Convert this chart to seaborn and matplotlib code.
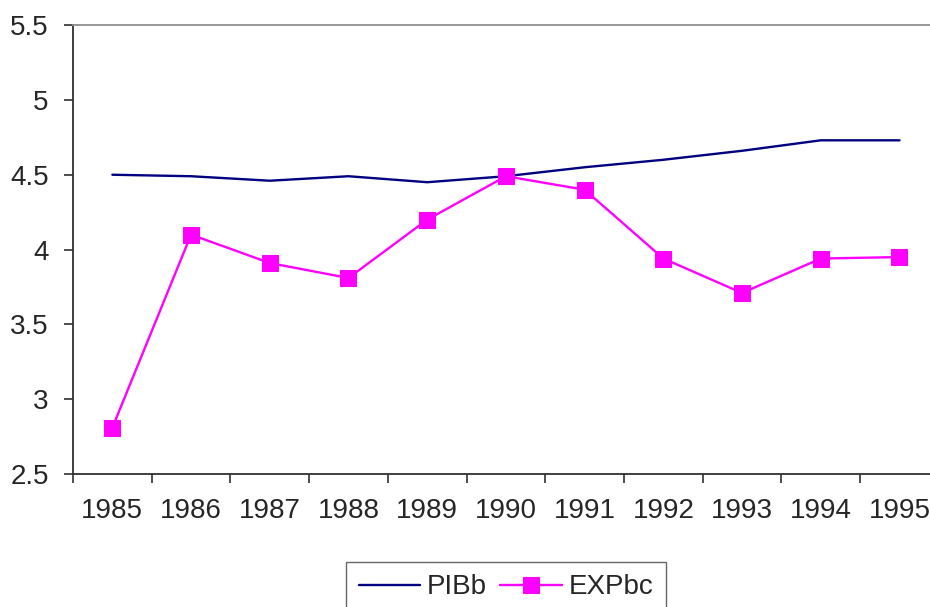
import pandas as pd
import numpy as np
import matplotlib
matplotlib.use("Agg")
import matplotlib.pyplot as plt
import seaborn as sns

# ── Data ─────────────────────────────────────────────────────────
years = ["1985", "1986", "1987", "1988", "1989", "1990",
         "1991", "1992", "1993", "1994", "1995"]
pibb = [4.50, 4.49, 4.46, 4.49, 4.45, 4.49, 4.55, 4.60, 4.66, 4.73, 4.73]
expbc = [2.81, 4.10, 3.91, 3.81, 4.20, 4.49, 4.40, 3.94, 3.71, 3.94, 3.95]
y_ticks = [2.5, 3, 3.5, 4, 4.5, 5, 5.5]
y_labels = ["2.5", "3", "3.5", "4", "4.5", "5", "5.5"]

df = pd.DataFrame({"Year": years, "PIBb": pibb, "EXPbc": expbc})

sns.set_style("white")
plt.rcParams["font.family"] = ["Liberation Sans", "DejaVu Sans"]

fig = plt.figure(figsize=(9.3, 6.07), dpi=100)
ax = fig.add_axes([0.0785, 0.219, 0.931, 0.7397])

sns.lineplot(data=df, x="Year", y="PIBb", ax=ax, color="#000080",
             linewidth=1.7, label="PIBb")
sns.lineplot(data=df, x="Year", y="EXPbc", ax=ax, color="#FF00FF",
             linewidth=1.7, marker="s", markersize=11,
             markeredgecolor="#FF00FF", label="EXPbc")

ax.set_xlim(-0.5, len(years) - 0.5)
ax.set_ylim(2.5, 5.5)
ax.set_yticks(y_ticks)
ax.set_yticklabels(y_labels)
ax.set_xticks(range(len(years)))
ax.set_xticklabels(years)
ax.set_xticks(np.arange(-0.5, len(years), 1.0), minor=True)
ax.set_xlabel("")
ax.set_ylabel("")

ax.tick_params(axis="y", which="major", direction="out", length=6.5,
               width=1.2, color="#303030", labelsize=20, pad=11, left=True)
ax.tick_params(axis="x", which="major", length=0, labelsize=20, pad=17)
ax.tick_params(axis="x", which="minor", direction="out", length=6.5,
               width=1.2, color="#303030", bottom=True)

for side in ["left", "bottom"]:
    ax.spines[side].set_color("#303030")
    ax.spines[side].set_linewidth(1.3)
ax.spines["top"].set_color("#909090")
ax.spines["top"].set_linewidth(1.3)
ax.spines["right"].set_visible(False)
ax.grid(False)

ax.get_legend().remove()
handles, labels = ax.get_legend_handles_labels()
leg = fig.legend(handles, labels, loc="upper center",
                 bbox_to_anchor=(0.544, 0.0745), ncol=2, frameon=True,
                 fancybox=False, edgecolor="#404040", fontsize=20,
                 handlelength=2.2, handletextpad=0.25, columnspacing=0.5,
                 borderpad=0.45, borderaxespad=0)
leg.get_frame().set_linewidth(1.0)

plt.savefig("out.png", dpi=100)
plt.close()
